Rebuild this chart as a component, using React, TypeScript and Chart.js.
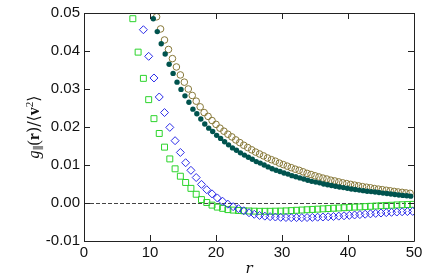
import React, { useEffect, useRef } from "react";
import { Chart, registerables } from "chart.js";

Chart.register(...registerables);

// r values (x) per series
const rTeal = [10.5, 11.1, 11.7, 12.3, 12.9, 13.5, 14.1, 14.7, 15.3, 15.9, 16.5, 17.1, 17.7, 18.3, 18.9, 19.5, 20.1, 20.7, 21.3, 21.9, 22.5, 23.1, 23.7, 24.3, 24.9, 25.5, 26.1, 26.7, 27.3, 27.9, 28.5, 29.1, 29.7, 30.3, 30.9, 31.5, 32.1, 32.7, 33.3, 33.9, 34.5, 35.1, 35.7, 36.3, 36.9, 37.5, 38.1, 38.7, 39.3, 39.9, 40.5, 41.1, 41.7, 42.3, 42.9, 43.5, 44.1, 44.7, 45.3, 45.9, 46.5, 47.1, 47.7, 48.3, 48.9, 49.5];
const gTeal = [
  0.0485, 0.0451, 0.0419, 0.0392, 0.0365, 0.0341, 0.0318, 0.0299, 0.0282, 0.0265,
  0.0247, 0.0235, 0.0221, 0.0208, 0.0197, 0.0188, 0.0178, 0.017, 0.0161, 0.0153,
  0.0145, 0.0139, 0.0132, 0.0126, 0.01205, 0.0115, 0.0109, 0.0105, 0.01, 0.0095,
  0.009, 0.0086, 0.0083, 0.0079, 0.0076, 0.0072, 0.0069, 0.0066, 0.0063, 0.006,
  0.0057, 0.0055, 0.0053, 0.005, 0.0048, 0.0046, 0.0044, 0.0042, 0.00405, 0.0039,
  0.0037, 0.00355, 0.0034, 0.00325, 0.0031, 0.003, 0.0029, 0.00275, 0.0026, 0.0025,
  0.00235, 0.00225, 0.0021, 0.002, 0.0019, 0.0018,
];

const rOlive = [11.0, 11.6, 12.2, 12.8, 13.4, 14.0, 14.6, 15.2, 15.8, 16.4, 17.0, 17.6, 18.2, 18.8, 19.4, 20.0, 20.6, 21.2, 21.8, 22.4, 23.0, 23.6, 24.2, 24.8, 25.4, 26.0, 26.6, 27.2, 27.8, 28.4, 29.0, 29.6, 30.2, 30.8, 31.4, 32.0, 32.6, 33.2, 33.8, 34.4, 35.0, 35.6, 36.2, 36.8, 37.4, 38.0, 38.6, 39.2, 39.8, 40.4, 41.0, 41.6, 42.2, 42.8, 43.4, 44.0, 44.6, 45.2, 45.8, 46.4, 47.0, 47.6, 48.2, 48.8, 49.4];
const gOlive = [
  0.049, 0.0458, 0.0429, 0.0404, 0.038, 0.0358, 0.0337, 0.0318, 0.03, 0.0283,
  0.0268, 0.0253, 0.0238, 0.0228, 0.0217, 0.0207, 0.0197, 0.0189, 0.0181, 0.0174,
  0.0166, 0.0159, 0.0152, 0.0146, 0.014, 0.0134, 0.0129, 0.0124, 0.01185, 0.0114,
  0.011, 0.0105, 0.0101, 0.0097, 0.0093, 0.0089, 0.0086, 0.0082, 0.0078, 0.0075,
  0.00715, 0.00685, 0.00655, 0.0063, 0.006, 0.0058, 0.00555, 0.0053, 0.0051, 0.0049,
  0.0047, 0.0045, 0.0043, 0.00415, 0.004, 0.0038, 0.00365, 0.0035, 0.00335, 0.0032,
  0.00305, 0.0029, 0.0028, 0.00265, 0.00255,
];

const rGreen = [7.4, 8.2, 9.0, 9.8, 10.6, 11.4, 12.2, 13.0, 13.8, 14.6, 15.4, 16.2, 17.0, 17.8, 18.6, 19.4, 20.2, 21.0, 21.8, 22.6, 23.4, 24.2, 25.0, 25.8, 26.6, 27.4, 28.2, 29.0, 29.8, 30.6, 31.4, 32.2, 33.0, 33.8, 34.6, 35.4, 36.2, 37.0, 37.8, 38.6, 39.4, 40.2, 41.0, 41.8, 42.6, 43.4, 44.2, 45.0, 45.8, 46.6, 47.4, 48.2, 49.0, 49.8];
const gGreen = [
  0.0485, 0.0397, 0.0328, 0.0272, 0.0222, 0.0183, 0.0147, 0.0116, 0.009, 0.00705,
  0.0054, 0.00385, 0.0023, 0.0009, 0.00013, -0.00056, -0.00108, -0.00141, -0.00174, -0.00187,
  -0.00197, -0.00205, -0.0021, -0.00215, -0.00218, -0.00218, -0.00218, -0.00215, -0.00213, -0.00208,
  -0.002, -0.00192, -0.00185, -0.00177, -0.00169, -0.00162, -0.00154, -0.00146, -0.00138, -0.00131,
  -0.00123, -0.00115, -0.00108, -0.00103, -0.00095, -0.00087, -0.00079, -0.00072, -0.00064, -0.00059,
  -0.00051, -0.00046, -0.00041, -0.00036,
];

const rBlue = [9.0, 9.8, 10.6, 11.4, 12.2, 13.0, 13.8, 14.6, 15.4, 16.2, 17.0, 17.8, 18.6, 19.4, 20.2, 21.0, 21.8, 22.6, 23.4, 24.2, 25.0, 25.8, 26.6, 27.4, 28.2, 29.0, 29.8, 30.6, 31.4, 32.2, 33.0, 33.8, 34.6, 35.4, 36.2, 37.0, 37.8, 38.6, 39.4, 40.2, 41.0, 41.8, 42.6, 43.4, 44.2, 45.0, 45.8, 46.6, 47.4, 48.2, 49.0, 49.8];
const gBlue = [
  0.0456, 0.0386, 0.0329, 0.0279, 0.0238, 0.0199, 0.0164, 0.0133, 0.0106, 0.0086,
  0.0067, 0.0049, 0.0035, 0.0024, 0.00133, 0.00046, -0.00031, -0.00097, -0.00149, -0.00205,
  -0.00256, -0.00297, -0.00328, -0.00346, -0.00359, -0.00369, -0.00377, -0.00382, -0.00385, -0.00385,
  -0.00385, -0.00382, -0.00379, -0.00374, -0.00369, -0.00362, -0.00354, -0.00346, -0.00336, -0.00326,
  -0.00315, -0.00305, -0.00295, -0.00285, -0.00274, -0.00264, -0.00254, -0.00246, -0.00238, -0.00231,
  -0.00226, -0.00221,
];

const xTicks = [0, 10, 20, 30, 40, 50];
const yTicks = [-0.01, 0.0, 0.01, 0.02, 0.03, 0.04, 0.05];
const xTitle = "r";
// y title g_∥(r)/⟨v²⟩, split into styled pieces
const yTitleParts: { t: string; f: string; dy: number }[] = [
  { t: "g", f: "italic 16px 'Liberation Serif', serif", dy: 0 },
  { t: "\u2225", f: "11px 'DejaVu Serif', serif", dy: 3 },
  { t: "(", f: "16px 'Liberation Serif', serif", dy: 0 },
  { t: "r", f: "bold 16px 'Liberation Serif', serif", dy: 0 },
  { t: ")/\u27E8", f: "16px 'DejaVu Serif', serif", dy: 0 },
  { t: "v", f: "bold 16px 'Liberation Serif', serif", dy: 0 },
  { t: "2", f: "11px 'Liberation Serif', serif", dy: -6 },
  { t: "\u27E9", f: "16px 'DejaVu Serif', serif", dy: 0 },
];

const pts = (xs: number[], ys: number[]) => xs.map((x, i) => ({ x, y: ys[i] }));

const framePlugin = {
  id: "frameTicks",
  beforeDatasetsDraw(chart: any) {
    const { ctx, chartArea, scales } = chart;
    const y0 = scales.y.getPixelForValue(0);
    ctx.save();
    ctx.strokeStyle = "#444";
    ctx.lineWidth = 1;
    ctx.setLineDash([4, 2]);
    ctx.beginPath();
    ctx.moveTo(chartArea.left, Math.round(y0) + 0.5);
    ctx.lineTo(chartArea.right, Math.round(y0) + 0.5);
    ctx.stroke();
    ctx.restore();
  },
  afterDraw(chart: any) {
    const { ctx, chartArea, scales } = chart;
    const { left, right, top, bottom } = chartArea;
    const L = 6;
    ctx.save();
    ctx.strokeStyle = "#222";
    ctx.lineWidth = 1;
    ctx.beginPath();
    ctx.rect(Math.round(left) + 0.5, Math.round(top) + 0.5, Math.round(right - left), Math.round(bottom - top));
    ctx.stroke();
    ctx.beginPath();
    xTicks.forEach((v) => {
      const px = Math.round(scales.x.getPixelForValue(v)) + 0.5;
      ctx.moveTo(px, bottom);
      ctx.lineTo(px, bottom - L);
      ctx.moveTo(px, top);
      ctx.lineTo(px, top + L);
    });
    yTicks.forEach((v) => {
      const py = Math.round(scales.y.getPixelForValue(v)) + 0.5;
      ctx.moveTo(left, py);
      ctx.lineTo(left + L, py);
      ctx.moveTo(right, py);
      ctx.lineTo(right - L, py);
    });
    ctx.stroke();
    ctx.restore();

    // y-axis title, rotated, with mixed styles
    ctx.save();
    const cy = (top + bottom) / 2;
    ctx.translate(39, cy);
    ctx.rotate(-Math.PI / 2);
    ctx.fillStyle = "#111";
    ctx.textBaseline = "alphabetic";
    ctx.textAlign = "left";
    let total = 0;
    const widths = yTitleParts.map((p) => {
      ctx.font = p.f;
      const w = ctx.measureText(p.t).width;
      total += w;
      return w;
    });
    let x = -total / 2;
    yTitleParts.forEach((p, i) => {
      ctx.font = p.f;
      ctx.fillText(p.t, x, p.dy);
      x += widths[i];
    });
    ctx.restore();
  },
};

export default function App() {
  const ref = useRef<HTMLCanvasElement | null>(null);
  useEffect(() => {
    document.body.style.margin = "0";
    const canvas = ref.current!;
    const tickFont = { family: "'Liberation Sans', Arial, sans-serif", size: 15 };
    const chart = new Chart(canvas, {
      type: "scatter",
      data: {
        datasets: [
          {
            label: "teal",
            data: pts(rTeal, gTeal),
            pointStyle: "circle",
            pointRadius: 2.7,
            pointBackgroundColor: "#00534e",
            pointBorderColor: "#00534e",
            pointBorderWidth: 0,
          },
          {
            label: "olive",
            data: pts(rOlive, gOlive),
            pointStyle: "circle",
            pointRadius: 3.3,
            pointBackgroundColor: "rgba(0,0,0,0)",
            pointBorderColor: "#877838",
            pointBorderWidth: 1,
          },
          {
            label: "blue",
            data: pts(rBlue, gBlue),
            pointStyle: "rectRot",
            pointRadius: 4,
            pointBackgroundColor: "rgba(0,0,0,0)",
            pointBorderColor: "#2b2be8",
            pointBorderWidth: 1,
          },
          {
            label: "green",
            data: pts(rGreen, gGreen),
            pointStyle: "rect",
            pointRadius: 4.2,
            pointBackgroundColor: "rgba(0,0,0,0)",
            pointBorderColor: "#2bd42b",
            pointBorderWidth: 1,
          },
        ],
      },
      options: {
        animation: false,
        responsive: false,
        devicePixelRatio: 1,
        layout: { padding: { top: 7, right: 22, left: 0, bottom: 0 } },
        plugins: { legend: { display: false }, tooltip: { enabled: false } },
        scales: {
          x: {
            type: "linear",
            min: 0,
            max: 50,
            afterBuildTicks: (s: any) => {
              s.ticks = xTicks.map((v) => ({ value: v }));
            },
            afterFit: (s: any) => {
              s.height = 36;
            },
            grid: { display: false, drawTicks: false },
            border: { display: false },
            ticks: { font: tickFont, color: "#111", padding: 3, maxRotation: 0 },
            title: {
              display: true,
              text: xTitle,
              font: { family: "'DejaVu Serif', serif", size: 15, style: "italic", lineHeight: 1 },
              color: "#111",
              padding: { top: 0, bottom: 0 },
            },
          },
          y: {
            type: "linear",
            min: -0.01,
            max: 0.05,
            afterBuildTicks: (s: any) => {
              s.ticks = yTicks.map((v) => ({ value: v }));
            },
            afterFit: (s: any) => {
              s.width = 84;
            },
            grid: { display: false, drawTicks: false },
            border: { display: false },
            ticks: {
              font: tickFont,
              color: "#111",
              padding: 4,
              callback: (v: any) => Number(v).toFixed(2),
            },
            title: { display: false },
          },
        },
      },
      plugins: [framePlugin],
    });
    return () => chart.destroy();
  }, []);
  return (
    <div style={{ width: 436, height: 277 }}>
      <canvas ref={ref} width={436} height={277} style={{ display: "block" }} />
    </div>
  );
}
